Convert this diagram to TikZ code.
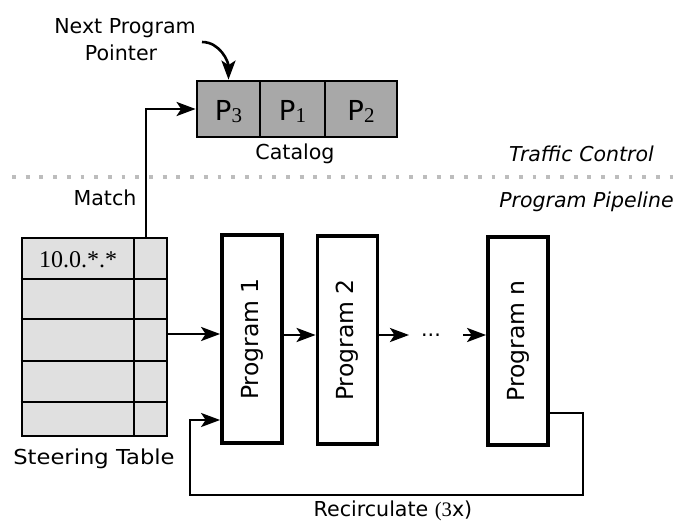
\documentclass[tikz,border=0pt]{standalone}
\usepackage{fontspec}
\setmainfont{DejaVu Sans}
\newfontfamily\serifnum{Liberation Serif}
\usetikzlibrary{arrows.meta,calc}

\definecolor{catfill}{HTML}{A8A8A8}
\definecolor{tblfill}{HTML}{E0E0E0}
\definecolor{sepgray}{HTML}{BDBDBD}

\tikzset{
  lbl/.style={font=\fontsize{20.6}{24}\selectfont, inner sep=0pt, anchor=base},
  itlbl/.style={font=\fontsize{20.5}{24}\selectfont\itshape, inner sep=0pt, anchor=base east},
  progbox/.style={draw, line width=3.8pt, fill=white, minimum width=60pt,
    minimum height=208pt, inner sep=0pt},
  proglbl/.style={font=\fontsize{23.5}{26}\selectfont, rotate=90, inner sep=0pt},
  catcell/.style={draw, line width=2.8pt, fill=catfill, minimum height=56pt, inner sep=0pt},
  cattxt/.style={font=\fontsize{27.5}{28}\selectfont, inner sep=0pt, anchor=base},
  gridline/.style={line width=2.8pt},
  arr/.style={line width=2.6pt, -{Stealth[length=19pt,width=14pt,inset=4.5pt]}},
  looparr/.style={line width=2.3pt, -{Stealth[length=19pt,width=14pt,inset=4.5pt]}},
}

\newcommand{\psub}[1]{P\raisebox{-2pt}{\fontsize{21}{22}\serifnum #1}}

\begin{document}
\begin{tikzpicture}[x=1pt,y=-1pt]
\useasboundingbox (0,0) rectangle (678,520);

% catalog cells
\node[catcell, minimum width=63pt] (c3) at (228.5,109) {};
\node[catcell, minimum width=65pt] (c1) at (292.5,109) {};
\node[catcell, minimum width=72pt] (c2) at (361,109) {};
\node[cattxt] at (c3.center |- 0,120) {\psub{3}};
\node[cattxt] at (c1.center |- 0,120) {\psub{1}};
\node[cattxt] at (c2.center |- 0,120) {\psub{2}};
\node[lbl] (catlbl) at (295,159) {Catalog};

% next program pointer
\node[lbl] (np1) at (125,33) {Next Program};
\node[lbl] (np2) at (121,60) {Pointer};
\coordinate (ps) at (202,42);
\draw[arr] (ps) to[out=0,in=90] (c3.north);

% separator between the two layers
\draw[sepgray, line width=3.8pt, dash pattern=on 3.8pt off 9.9pt] (12,177) -- (678,177);
\node[itlbl] (tc) at (654,161) {Traffic Control};
\node[itlbl] (pp) at (674,207) {Program Pipeline};

% steering table
\node[draw, gridline, fill=tblfill, minimum width=145pt, minimum height=198pt,
  inner sep=0pt] (tbl) at (94.5,337) {};
\foreach \yy in {279,319,361,402}
  \draw[gridline] (tbl.west |- 0,\yy) -- (tbl.east |- 0,\yy);
\draw[gridline] (134,238) -- (134,436);
\node[font=\fontsize{24}{26}\serifnum, inner sep=0pt, anchor=base] (entry) at (78,267) {10.0.*.*};
\node[lbl] (tbllbl) at (94,464) {\scalebox{1.1}[1]{Steering Table}};

% match line up to the catalog
\coordinate (m) at (146,238);
\node[lbl] (matchlbl) at (105,205) {Match};
\draw[arr] (m) |- (c3.west);

% program pipeline
\node[progbox] (p1) at (252,339) {};
\node[proglbl] at (p1) {Program 1};
\node[progbox] (p2) at (347.5,340) {};
\node[proglbl] at (p2) {Program 2};
\node[progbox] (pn) at (518,341) {};
\node[proglbl] at (pn) {Program n};
\node[lbl] (dots) at (431,336) {...};

\coordinate (tout) at (167,334);
\coordinate (a12) at (300,335);
\coordinate (d1) at (409,335);
\coordinate (d2) at (463,335);
\draw[arr] (tout) -- (p1.west |- tout);
\draw[arr] (p1.east |- a12) -- (p2.west |- a12);
\draw[arr] (p2.east |- d1) -- (d1);
\draw[arr] (d2) -- (pn.west |- d2);

% recirculation loop
\coordinate (rs) at (548,413);
\coordinate (re) at (190,420);
\draw[looparr] (pn.east |- rs) -- (583,413) -- (583,495) -- (190,495) -- (re) -- (p1.west |- re);
\node[lbl] (reclbl) at (393,516) {Recirculate {\serifnum(3}x)};
\end{tikzpicture}
\end{document}
